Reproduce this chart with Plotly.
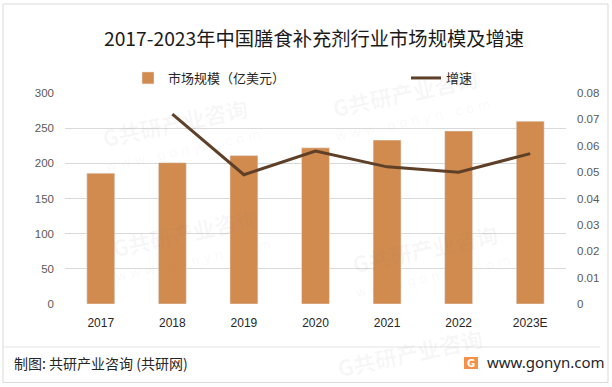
import plotly.graph_objects as go

years = ["2017", "2018", "2019", "2020", "2021", "2022", "2023E"]
market_size = [186, 201, 211, 222, 233, 246, 260]
growth_years = ["2018", "2019", "2020", "2021", "2022", "2023E"]
growth = [0.072, 0.049, 0.058, 0.052, 0.050, 0.057]
left_ticks = [0, 50, 100, 150, 200, 250, 300]
right_ticks = [0, 0.01, 0.02, 0.03, 0.04, 0.05, 0.06, 0.07, 0.08]
right_labels = ["0", "0.01", "0.02", "0.03", "0.04", "0.05", "0.06", "0.07", "0.08"]

BAR = "#D28B4E"
LINE = "#5E4028"
FONT = "Noto Sans CJK SC"
TICKFONT = "Liberation Sans"

L, R, T, B = 65, 566, 93, 304
PW, PH = R - L, B - T


def px(x):
    return (x - L) / PW


def py(y):
    return (B - y) / PH


fig = go.Figure()
fig.add_trace(go.Bar(x=years, y=market_size, name="市场规模（亿美元）",
                     marker=dict(color=BAR), yaxis="y", legend="legend"))
fig.add_trace(go.Scatter(x=growth_years, y=growth, name="增速", mode="lines",
                         line=dict(color=LINE, width=3), yaxis="y2", legend="legend2"))

# faint watermark tiles (centre, with / without url line)
wm_centers = [(175, 122, True), (405, 92, True), (185, 232, True), (425, 248, True), (410, 352, False)]
wm_annotations = []
for cx, cy, with_url in wm_centers:
    wm_annotations.append(dict(text="<b>G共研产业咨询</b>", xref="paper", yref="paper",
                               x=px(cx), y=py(cy), xanchor="center", yanchor="middle",
                               showarrow=False, textangle=-12,
                               font=dict(size=22, color="rgba(120,120,120,0.06)", family=FONT)))
    if with_url:
        wm_annotations.append(dict(text="w w w . g o n y n . c o m", xref="paper", yref="paper",
                                   x=px(cx + 8), y=py(cy + 28), xanchor="center", yanchor="middle",
                                   showarrow=False, textangle=-12,
                                   font=dict(size=13, color="rgba(120,120,120,0.06)",
                                             family="DejaVu Sans")))

legend_common = dict(orientation="h", xref="container", yref="container",
                     xanchor="left", yanchor="middle",
                     font=dict(size=13, color="#262626", family=FONT),
                     bgcolor="rgba(0,0,0,0)")

fig.update_layout(
    width=612, height=387,
    margin=dict(l=L, r=612 - R, t=T, b=387 - B, autoexpand=False),
    paper_bgcolor="white", plot_bgcolor="white",
    font=dict(family=FONT, color="#595959", size=11),
    bargap=0.61,
    showlegend=True,
    legend=dict(legend_common, x=128 / 612, y=1 - 78 / 387),
    legend2=dict(legend_common, x=406 / 612, y=1 - 78 / 387),
    title=dict(text="2017-2023年中国膳食补充剂行业市场规模及增速", xref="container",
               x=314 / 612, xanchor="center",
               y=1 - 39 / 387, yanchor="middle",
               font=dict(size=19.3, color="#1a1a1a", family=FONT)),
    xaxis=dict(type="category", showgrid=False, showline=False, ticks="", automargin=False,
               ticklabelstandoff=10,
               tickfont=dict(size=12, color="#262626", family=TICKFONT)),
    yaxis=dict(range=[0, 300], tickvals=left_ticks, showgrid=True, gridcolor="#D9D9D9",
               gridwidth=1, zeroline=False, showline=False, ticks="", automargin=False,
               ticklabelstandoff=10,
               tickfont=dict(size=11.5, color="#595959", family=TICKFONT)),
    yaxis2=dict(range=[0, 0.08], tickvals=right_ticks, ticktext=right_labels,
                overlaying="y", side="right", showgrid=False, zeroline=False, automargin=False,
                ticklabelstandoff=10,
                showline=False, tickfont=dict(size=11.5, color="#595959", family=TICKFONT)),
    shapes=[
        # outer border
        dict(type="rect", xref="paper", yref="paper",
             x0=px(3), x1=px(608), y0=py(382.5), y1=py(4),
             line=dict(color="#D9D9D9", width=1)),
        # footer separator
        dict(type="line", xref="paper", yref="paper",
             x0=px(3), x1=px(600), y0=py(347), y1=py(347),
             line=dict(color="#E3E3E3", width=1)),
        # logo
        dict(type="rect", xref="paper", yref="paper",
             x0=px(464), x1=px(478), y0=py(369), y1=py(357),
             line=dict(width=0), fillcolor="#F3914A"),
    ],
    annotations=wm_annotations + [
        dict(text="制图: 共研产业咨询 (共研网)", xref="paper", yref="paper",
             x=px(12), y=py(363), xanchor="left", yanchor="middle",
             showarrow=False, font=dict(size=14, color="#262626", family=FONT)),
        dict(text="<b>G</b>", xref="paper", yref="paper",
             x=px(471), y=py(363), xanchor="center", yanchor="middle",
             showarrow=False, font=dict(size=10, color="white", family="DejaVu Sans")),
        dict(text="www.gonyn.com", xref="paper", yref="paper",
             x=px(485), y=py(362), xanchor="left", yanchor="middle",
             showarrow=False, font=dict(size=15, color="#262626", family="Noto Sans")),
    ],
)

fig.write_html("out.html", post_script="document.body.style.margin='0px';",
               config={"displayModeBar": False})
